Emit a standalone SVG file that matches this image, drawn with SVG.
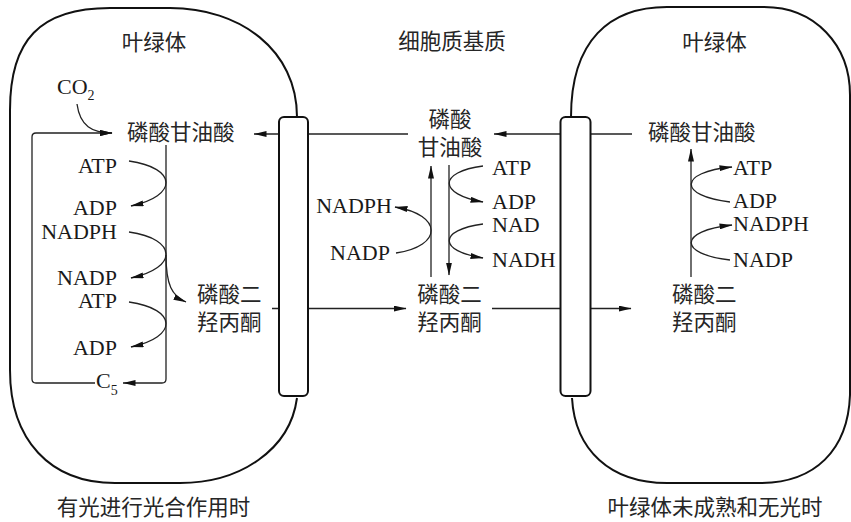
<svg xmlns="http://www.w3.org/2000/svg" width="851" height="522" viewBox="0 0 851 522">
<style>
text{font-family:'Liberation Serif','Noto Sans CJK SC',serif;font-size:22px;fill:#1a1a1a}
.cjk{font-family:'Noto Sans CJK SC',sans-serif;font-size:21.5px;fill:#262626}
.sub{font-size:14px}
.end{text-anchor:end}
.outline{fill:none;stroke:#111;stroke-width:2}
.mem{fill:#fff;stroke:#111;stroke-width:2}
.c{fill:none;stroke:#222;stroke-width:1.3}
.a{marker-end:url(#ah)}
</style>
<defs>
<marker id="ah" viewBox="0 0 13 6" markerWidth="13" markerHeight="6" refX="12.5" refY="3" orient="auto" markerUnits="userSpaceOnUse">
<path d="M0,0 L13,3 L0,6 z" fill="#111"/>
</marker>
</defs>

<g id="connectors">
<path class="c a" d="M632,134 L494,134"/>
<path class="c a" d="M408,134 L254,134"/>
<path class="c a" d="M272,308.5 L406,308.5"/>
<path class="c a" d="M492,308.5 L631,308.5"/>
<path class="c a" d="M77,104 C80,126 92,133 112,133"/>
<path class="c a" d="M95,383 L36,383 Q32,383 32,379 L32,137 Q32,133 36,133 L112,133"/>
<path class="c a" d="M166,145 L166,379 Q166,383 162,383 L123,383"/>
<path class="c a" d="M129,161 C178,168 178,196 131,206"/>
<path class="c a" d="M129,232 C178,239 178,268 131,278"/>
<path class="c a" d="M129,302 C178,309 178,337 131,347"/>
<path class="c a" d="M166,255 C166,285 172,296 186,302"/>
<path class="c a" d="M431,277 L431,166"/>
<path class="c a" d="M449,165 L449,275"/>
<path class="c a" d="M483,166 C438,172 438,194 483,202"/>
<path class="c a" d="M483,224 C438,230 438,251 483,258"/>
<path class="c a" d="M396,253 C443,246 443,215 395,207"/>
<path class="c a" d="M691,277 L691,149"/>
<path class="c a" d="M730,202 C678,196 678,172 732,167"/>
<path class="c a" d="M730,260 C678,254 678,231 732,225"/>
</g>

<g id="chloroplast-left">
<path class="outline" d="M297,117 C297,50 240,8 170,8 L110,8 C40,8 10,40 10,110 L10,370 C10,440 50,483 115,483 L180,483 C240,483 290,450 297,398"/>
<rect class="mem" x="279" y="117" width="29" height="279" rx="5"/>
<text class="cjk" x="154" y="50" text-anchor="middle">叶绿体</text>
<text class="cjk" x="153.5" y="515" text-anchor="middle">有光进行光合作用时</text>
</g>

<g id="chloroplast-right">
<path class="outline" d="M571,117 C571,40 610,7 667,7 L764,7 C815,7 850,45 850,95 L850,395 C848,450 815,483 760,483 L667,483 C610,483 575,450 572,398"/>
<rect class="mem" x="560.5" y="117" width="30" height="279" rx="5"/>
<text class="cjk" x="714.5" y="50" text-anchor="middle">叶绿体</text>
<text class="cjk" x="715" y="515" text-anchor="middle">叶绿体未成熟和无光时</text>
</g>

<g id="cytoplasm-label">
<text class="cjk" x="452" y="49" text-anchor="middle">细胞质基质</text>
</g>

<g id="left-nodes">
<text x="57" y="94">CO<tspan class="sub" dy="6">2</tspan></text>
<text class="cjk" x="127" y="140">磷酸甘油酸</text>
<text class="end" x="117" y="173">ATP</text>
<text class="end" x="117" y="215">ADP</text>
<text class="end" x="117" y="239">NADPH</text>
<text class="end" x="117" y="285">NADP</text>
<text class="end" x="117" y="308">ATP</text>
<text class="end" x="117" y="355">ADP</text>
<text x="96" y="388">C<tspan class="sub" dy="7">5</tspan></text>
<text class="cjk" x="197" y="302">磷酸二</text>
<text class="cjk" x="197" y="330">羟丙酮</text>
</g>

<g id="middle-nodes">
<text class="cjk" x="450" y="127" text-anchor="middle">磷酸</text>
<text class="cjk" x="450" y="155" text-anchor="middle">甘油酸</text>
<text x="492" y="175">ATP</text>
<text x="492" y="209">ADP</text>
<text x="492" y="232">NAD</text>
<text x="492" y="267">NADH</text>
<text class="end" x="392" y="213">NADPH</text>
<text class="end" x="390" y="260">NADP</text>
<text class="cjk" x="449.5" y="302" text-anchor="middle">磷酸二</text>
<text class="cjk" x="449.5" y="330" text-anchor="middle">羟丙酮</text>
</g>

<g id="right-nodes">
<text class="cjk" x="648" y="140">磷酸甘油酸</text>
<text x="733" y="175">ATP</text>
<text x="733" y="208">ADP</text>
<text x="733" y="231">NADPH</text>
<text x="733" y="267">NADP</text>
<text class="cjk" x="672" y="302">磷酸二</text>
<text class="cjk" x="672" y="330">羟丙酮</text>
</g>
</svg>
